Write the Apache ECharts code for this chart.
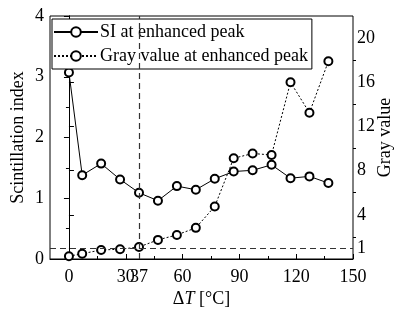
<!DOCTYPE html>
<html>
  <head>
    <meta charset="utf-8">
    <title>SI and gray value</title>
    <style type="text/css">
    html,body{margin:0;padding:0;background:#fff;}
    #chart{width:398px;height:319px;}
    </style>
    <script src="https://cdn.jsdelivr.net/npm/echarts@6/dist/echarts.min.js"></script>
  </head>
  <body>
    <div id="chart"></div>
    <script type="text/javascript">
      // data
      var deltaT = [0, 7, 17, 27, 37, 47, 57, 67, 77, 87, 97, 107, 117, 127, 137];
      var siValues = [3.07, 1.38, 1.57, 1.31, 1.09, 0.96, 1.20, 1.14, 1.32, 1.44, 1.46, 1.55, 1.33, 1.36, 1.25];
      var grayValues = [0.25, 0.48, 0.82, 0.88, 1.09, 1.73, 2.18, 2.82, 4.76, 9.12, 9.55, 9.42, 16.0, 13.24, 17.9];
      var xLabels = [0, 30, 37, 60, 90, 120, 150];
      var xMajorTicks = [0, 30, 60, 90, 120, 150];
      var xMinorTicks = [15, 45, 75, 105, 135];
      var grayLabels = [0, 1, 4, 8, 12, 16, 20];
      var grayMinorTicks = [2, 6, 10, 14, 18];
      var thresholdT = 37;
      var thresholdGray = 1;

      var font = 'Liberation Serif';
      var black = '#000';

      function pairs(xs, ys) {
        var out = [];
        for (var i = 0; i < xs.length; i++) out.push([xs[i], ys[i]]);
        return out;
      }

      var chart = echarts.init(document.getElementById('chart'));
      var option = {
        animation: false,
        grid: {
          left: 50, right: 45, top: 16, bottom: 60,
          outerBoundsMode: 'none',
          show: true, borderColor: black, borderWidth: 1
        },
        legend: {
          orient: 'vertical',
          left: 52,
          top: 19,
          padding: [4, 4, 4, 1],
          itemGap: 6,
          itemWidth: 44,
          itemHeight: 12,
          borderColor: black,
          borderWidth: 1,
          backgroundColor: '#fff',
          textStyle: { fontFamily: font, fontSize: 18, color: black, padding: [0, 0, 0, -3] },
          data: ['SI at enhanced peak', 'Gray value at enhanced peak']
        },
        xAxis: [{
          type: 'value',
          min: -10,
          max: 150,
          name: '{a|Δ}{i|T}{a| [°C]}',
          nameLocation: 'middle',
          nameGap: 31,
          nameMoveOverlap: false,
          nameTextStyle: {
            rich: {
              a: { fontFamily: font, fontSize: 18, color: black },
              i: { fontFamily: font, fontSize: 18, color: black, fontStyle: 'italic' }
            }
          },
          axisLine: { lineStyle: { color: black } },
          axisTick: { inside: true, length: 5, customValues: xMajorTicks, lineStyle: { color: black } },
          axisLabel: { customValues: xLabels, fontFamily: font, fontSize: 18, color: black, margin: 9 },
          splitLine: { show: false }
        }, {
          type: 'value',
          position: 'bottom',
          min: -10,
          max: 150,
          axisLine: { show: false },
          axisTick: { inside: true, length: 3, customValues: xMinorTicks, lineStyle: { color: black } },
          axisLabel: { show: false },
          splitLine: { show: false }
        }],
        yAxis: [{
          type: 'value',
          min: 0,
          max: 4,
          interval: 1,
          name: 'Scintillation index',
          nameLocation: 'middle',
          nameGap: 23,
          nameMoveOverlap: false,
          nameTextStyle: { fontFamily: font, fontSize: 18, color: black },
          axisLine: { show: true, lineStyle: { color: black } },
          axisTick: { show: true, length: 5, lineStyle: { color: black } },
          minorTick: { show: true, splitNumber: 2, length: 3, lineStyle: { color: black } },
          axisLabel: { fontFamily: font, fontSize: 18, color: black, margin: 6 },
          splitLine: { show: false }
        }, {
          type: 'value',
          position: 'right',
          min: 0,
          max: 22,
          name: 'Gray value',
          nameLocation: 'middle',
          nameGap: 23,
          nameRotate: 90,
          nameMoveOverlap: false,
          nameTextStyle: { fontFamily: font, fontSize: 18, color: black },
          axisLine: { show: true, lineStyle: { color: black } },
          axisTick: { show: true, length: 5, customValues: grayLabels, lineStyle: { color: black } },
          axisLabel: { customValues: grayLabels, fontFamily: font, fontSize: 18, color: black, margin: 4 },
          splitLine: { show: false }
        }, {
          type: 'value',
          position: 'right',
          min: 0,
          max: 22,
          axisLine: { show: false },
          axisTick: { show: true, length: 3, customValues: grayMinorTicks, lineStyle: { color: black } },
          axisLabel: { show: false },
          splitLine: { show: false }
        }],
        series: [{
          name: 'SI at enhanced peak',
          type: 'line',
          xAxisIndex: 0,
          yAxisIndex: 0,
          data: pairs(deltaT, siValues),
          symbol: 'emptyCircle',
          symbolSize: 8,
          z: 3,
          lineStyle: { color: black, width: 1 },
          itemStyle: { color: black, borderColor: black, borderWidth: 1.8 },
          markLine: {
            silent: true,
            symbol: 'none',
            label: { show: false },
            lineStyle: { color: '#333', width: 1.2, type: [6, 4] },
            data: [{ xAxis: thresholdT }]
          }
        }, {
          name: 'Gray value at enhanced peak',
          type: 'line',
          xAxisIndex: 0,
          yAxisIndex: 1,
          data: pairs(deltaT, grayValues),
          symbol: 'emptyCircle',
          symbolSize: 8,
          z: 3,
          lineStyle: { color: black, width: 1, type: [2, 2] },
          itemStyle: { color: black, borderColor: black, borderWidth: 1.8 },
          markLine: {
            silent: true,
            symbol: 'none',
            label: { show: false },
            lineStyle: { color: '#333', width: 1.2, type: [6, 4] },
            data: [{ yAxis: thresholdGray }]
          }
        }]
      };
      chart.setOption(option);
    </script>
  </body>
</html>
